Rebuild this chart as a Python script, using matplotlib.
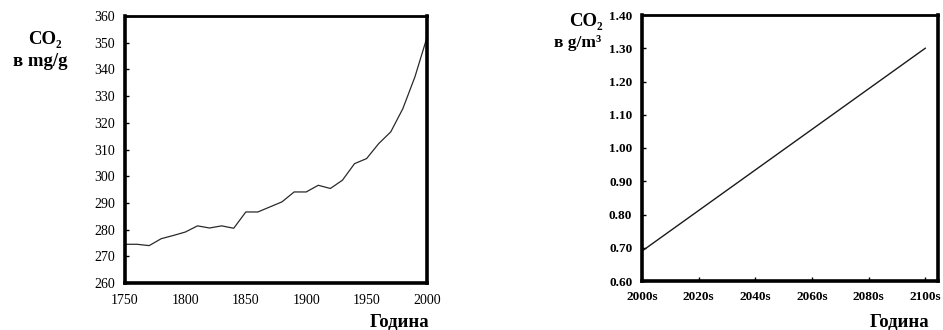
import matplotlib

matplotlib.use("Agg")
import matplotlib.pyplot as plt
from matplotlib.ticker import FormatStrFormatter

plt.rcParams["font.family"] = ["Liberation Serif", "DejaVu Serif"]

# historic CO2 (left panel)
years = [1750, 1760, 1770, 1780, 1790, 1800, 1810, 1820, 1830, 1840, 1850, 1860, 1870,
         1880, 1890, 1900, 1910, 1920, 1930, 1940, 1950, 1960, 1970, 1980, 1990, 2000]
co2_hist = [274.5, 274.5, 274.0, 276.6, 277.8, 279.1, 281.4, 280.6, 281.4, 280.5, 286.6,
            286.6, 288.5, 290.4, 294.1, 294.1, 296.6, 295.4, 298.5, 304.7, 306.6, 312.2,
            316.6, 325.3, 337.2, 352.0]

# projection (right panel)
decades = ["2000s", "2010s", "2020s", "2030s", "2040s", "2050s", "2060s", "2070s",
           "2080s", "2090s", "2100s"]
co2_proj = [0.690, 0.751, 0.812, 0.873, 0.934, 0.995, 1.056, 1.117, 1.178, 1.239, 1.300]

W, H = 943, 330
fig = plt.figure(figsize=(W / 100, H / 100), dpi=100)

ax1 = fig.add_axes([125 / W, 1 - 283 / H, 302 / W, 267 / H])
ax2 = fig.add_axes([642 / W, 1 - 281 / H, 296 / W, 266 / H])

# left panel
ax1.plot(years, co2_hist, color="#2a2a2a", lw=0.9)
ax1.set_xlim(1750, 2000)
ax1.set_ylim(260, 360)
ax1.set_xticks(range(1750, 2001, 50))
ax1.set_yticks(range(260, 361, 10))
ax1.tick_params(axis="both", direction="in", length=3, width=1, labelsize=10, pad=7)
ax1.tick_params(axis="x", length=0, pad=8)

# right panel
x = list(range(len(decades)))
ax2.plot(x, co2_proj, color="#1a1a1a", lw=1.0)
ax2.set_xlim(0, 10.45)
ax2.set_ylim(0.6, 1.4)
ax2.set_xticks(x[::2], decades[::2])
ax2.set_yticks([0.6, 0.7, 0.8, 0.9, 1.0, 1.1, 1.2, 1.3, 1.4])
ax2.yaxis.set_major_formatter(FormatStrFormatter("%.2f"))
ax2.tick_params(axis="both", direction="in", length=3, width=1, labelsize=9.5, pad=7)
for lab in ax2.get_xticklabels() + ax2.get_yticklabels():
    lab.set_fontweight("bold")

for ax in (ax1, ax2):
    for side in ("left", "bottom", "right"):
        ax.spines[side].set_linewidth(2.6)
    ax.spines["top"].set_linewidth(2.0)

lab = dict(ha="center", va="center", fontsize=13.5, fontweight="bold")
fig.text(45 / W, 1 - 40 / H, "CO₂", **lab)
fig.text(40 / W, 1 - 62 / H, "в mg/g", **lab)
fig.text(400 / W, 1 - 322 / H, "Година", **lab)
fig.text(586 / W, 1 - 21 / H, "CO₂", **lab)
fig.text(578 / W, 1 - 43 / H, "в g/m³", ha="center", va="center", fontsize=12.5,
         fontweight="bold")
fig.text(900 / W, 1 - 322 / H, "Година", **lab)

fig.savefig("out.png", dpi=100)
